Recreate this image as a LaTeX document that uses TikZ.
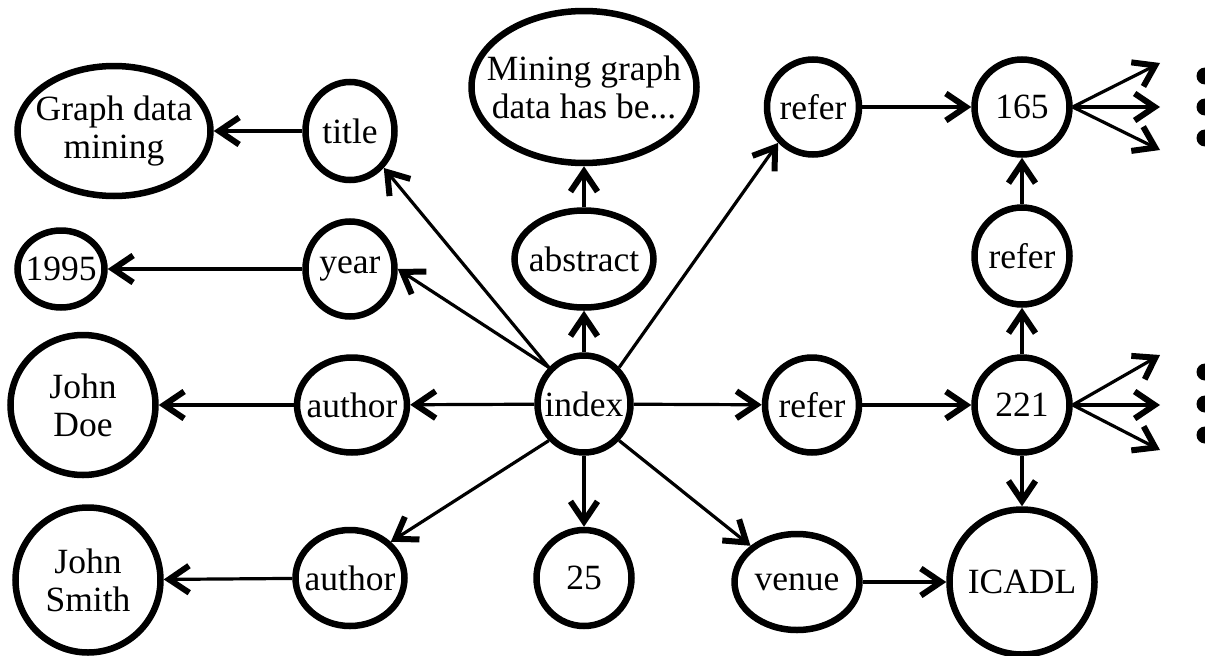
\documentclass[tikz,border=0pt]{standalone}
\usepackage{fontspec}
\setmainfont{Liberation Serif}
\usetikzlibrary{shapes.geometric,arrows.meta}
\begin{document}
\begin{tikzpicture}[x=1pt,y=-1pt,
  nd/.style={ellipse, draw, line width=6.5pt, inner xsep=-20pt, inner ysep=-5pt, align=center, font=\fontsize{35.5}{38}\selectfont},
  sz/.style 2 args={minimum width=#1pt, minimum height=#2pt},
  ar/.style={line width=3.2pt, -{Straight Barb[length=20pt,width=27pt,line width=6pt]}},
  dotnode/.style={circle, fill, inner sep=0pt, minimum size=17pt}]
\useasboundingbox (0,0) rectangle (1205,656);
% nodes
\node[nd, sz={193}{130}] (gdm) at (114,131) {Graph data\\mining};
\node[nd, sz={89}{98}] (title) at (350,131) {title};
\node[nd, sz={87}{77}] (n1995) at (61,269) {1995};
\node[nd, sz={89}{95}] (year) at (350,269) {year};
\node[nd, sz={145}{140}] (johndoe) at (83,405) {John\\Doe};
\node[nd, sz={110}{95}] (authA) at (352,405) {author};
\node[nd, sz={145}{145}] (johnsmith) at (88,580) {John\\Smith};
\node[nd, sz={109}{96}] (authB) at (350,578) {author};
\node[nd, sz={225}{152}] (mining) at (584,87) {Mining graph\\data has be...};
\node[nd, sz={139}{97}] (abstract) at (584,259) {abstract};
\node[nd, sz={93}{97}] (index) at (584,404) {index};
\node[nd, sz={95}{96}] (n25) at (584,578) {25};
\node[nd, sz={92}{95}] (referA) at (813,107) {refer};
\node[nd, sz={94}{95}] (referB) at (812,405) {refer};
\node[nd, sz={125}{96}] (venue) at (797,582) {venue};
\node[nd, sz={95}{95}] (n165) at (1022,107) {165};
\node[nd, sz={95}{97}] (referC) at (1022,256) {refer};
\node[nd, sz={95}{95}] (n221) at (1022,405) {221};
\node[nd, sz={145}{145}] (icadl) at (1022,582) {ICADL};
% fan end points and dots
\coordinate (a1) at (1160,63);
\coordinate (a2) at (1160,107);
\coordinate (a3) at (1160,150);
\coordinate (b1) at (1160,355);
\coordinate (b2) at (1160,405);
\coordinate (b3) at (1160,450);
\node[dotnode] (da1) at (1205,76) {};
\node[dotnode] (da2) at (1205,107) {};
\node[dotnode] (da3) at (1205,138) {};
\node[dotnode] (db1) at (1205,372) {};
\node[dotnode] (db2) at (1205,404) {};
\node[dotnode] (db3) at (1205,435) {};
% edges
\draw[ar] (title) -- (gdm);
\draw[ar] (year) -- (n1995);
\draw[ar] (authA) -- (johndoe);
\draw[ar] (authB) -- (johnsmith);
\draw[ar] (abstract) -- (mining);
\draw[ar] (index) -- (abstract);
\draw[ar] (index) -- (authA);
\draw[ar] (index) -- (referB);
\draw[ar] (index) -- (n25);
\draw[ar] (index.north west) -- (title.south east);
\draw[ar] (index.north west) -- (year.east);
\draw[ar] (index.south west) -- (authB.north east);
\draw[ar] (index.south east) -- (venue.north west);
\draw[ar] (index.north east) -- (referA.south west);
\draw[ar] (referA) -- (n165);
\draw[ar] (referB) -- (n221);
\draw[ar] (n221) -- (referC);
\draw[ar] (referC) -- (n165);
\draw[ar] (n221) -- (icadl);
\draw[ar] (venue) -- (icadl);
\draw[ar] (n165.east) -- (a1);
\draw[ar] (n165.east) -- (a2);
\draw[ar] (n165.east) -- (a3);
\draw[ar] (n221.east) -- (b1);
\draw[ar] (n221.east) -- (b2);
\draw[ar] (n221.east) -- (b3);
\end{tikzpicture}
\end{document}
